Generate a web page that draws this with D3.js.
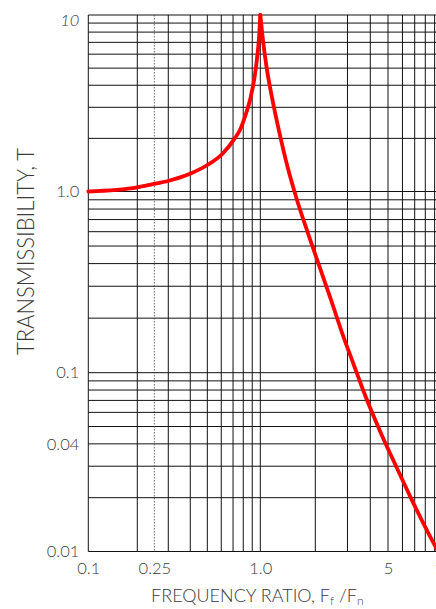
<!DOCTYPE html>
<html>
<head>
<meta charset="utf-8">
<script src="https://cdn.jsdelivr.net/npm/d3@7"></script>
<style>
  html, body { margin: 0; padding: 0; background: #fff; }
  svg { display: block; }
  text { font-family: Lato, "Open Sans", sans-serif; font-weight: 300; fill: #3a3a3a; }
</style>
</head>
<body>
<svg id="chart" width="436" height="609"></svg>
<script>
// ---- data ----
const xTickValues = [0.1, 0.25, 1, 5, 10];
const xTickLabels = ["0.1", "0.25", "1.0", "5", "10"];
const yTickValues = [10, 1, 0.1, 0.04, 0.01];
const yTickLabels = ["10", "1.0", "0.1", "0.04", "0.01"];
const xGridValues = [0.1, 0.2, 0.3, 0.4, 0.5, 0.6, 0.7, 0.8, 0.9, 1, 2, 3, 4, 5, 6, 7, 8, 9, 10];
const xDottedValues = [0.25];
const yGridValues = [0.01, 0.02, 0.03, 0.04, 0.05, 0.06, 0.07, 0.08, 0.09,
                     0.1, 0.2, 0.3, 0.4, 0.5, 0.6, 0.7, 0.8, 0.9,
                     1, 2, 3, 4, 5, 6, 7, 8, 9, 10];
// transmissibility curve, below resonance
const belowRatio = [0.1, 0.2, 0.239, 0.302, 0.402, 0.5, 0.608, 0.716, 0.766, 0.818, 0.874, 0.946, 0.987, 1.0];
const belowT     = [1.0, 1.056, 1.094, 1.151, 1.265, 1.413, 1.631, 2.0, 2.23, 2.65, 3.30, 5.10, 7.88, 10];
// above resonance
const aboveRatio = [1.0, 1.037, 1.081, 1.166, 1.274, 1.409, 1.588, 1.824, 2.109, 2.438, 2.818, 3.237, 3.742, 4.549, 5.567, 6.809, 8.329, 9.27];
const aboveT     = [10, 7.03, 5.10, 3.30, 2.14, 1.38, 0.898, 0.588, 0.385, 0.252, 0.1635, 0.1117, 0.0750, 0.0465, 0.0296, 0.01907, 0.01262, 0.01026];

const xTitle = "FREQUENCY RATIO, F";
const yTitle = "TRANSMISSIBILITY, T";

// ---- scales ----
const svg = d3.select("#chart");
svg.append("rect").attr("width", 436).attr("height", 609).attr("fill", "#fff");

const x = d3.scaleLog().domain([0.1, 0.2, 1, 10]).range([88.3, 137.3, 260.3, 443]);
const y = d3.scaleLog().domain([0.01, 0.1, 1, 10]).range([551.5, 372.7, 191.5, 15]);

const grid = svg.append("g");
grid.selectAll("line.v").data(xGridValues).join("line")
  .attr("class", "v")
  .attr("x1", d => x(d)).attr("x2", d => x(d))
  .attr("y1", y(10)).attr("y2", y(0.01))
  .attr("stroke", "#111").attr("stroke-width", 1);
grid.selectAll("line.h").data(yGridValues).join("line")
  .attr("class", "h")
  .attr("x1", x(0.1)).attr("x2", x(10))
  .attr("y1", d => y(d)).attr("y2", d => y(d))
  .attr("stroke", "#111").attr("stroke-width", 1);
grid.selectAll("line.d").data(xDottedValues).join("line")
  .attr("class", "d")
  .attr("x1", d => x(d)).attr("x2", d => x(d))
  .attr("y1", y(10)).attr("y2", y(0.01))
  .attr("stroke", "#444").attr("stroke-width", 0.8)
  .attr("stroke-dasharray", "1.5,1.5");

// ---- curve ----
const line = d3.line().x(d => x(d[0])).y(d => y(d[1])).curve(d3.curveMonotoneX);
const below = belowRatio.map((r, i) => [r, belowT[i]]);
const above = aboveRatio.map((r, i) => [r, aboveT[i]]);
[below, above].forEach(seg => {
  svg.append("path").datum(seg)
    .attr("d", line)
    .attr("fill", "none")
    .attr("stroke", "#ff0000")
    .attr("stroke-width", 3.8)
    .attr("stroke-linejoin", "round")
    .attr("stroke-linecap", "round");
});

// ---- axes ----
const yAxis = svg.append("g").attr("transform", `translate(${x(0.1)},0)`)
  .call(d3.axisLeft(y).tickValues(yTickValues).tickFormat((d, i) => yTickLabels[i]).tickSize(0).tickPadding(9));
yAxis.select(".domain").remove();
yAxis.selectAll("text")
  .style("font-family", "Lato, 'Open Sans', sans-serif").style("font-weight", 300)
  .style("font-size", "16.5px").attr("fill", "#3a3a3a")
  .filter(d => d === 10).attr("dy", "0.65em").style("font-style", "italic");

const xAxis = svg.append("g").attr("transform", `translate(0,${y(0.01)})`)
  .call(d3.axisBottom(x).tickValues(xTickValues).tickFormat((d, i) => xTickLabels[i]).tickSize(0).tickPadding(11));
xAxis.select(".domain").remove();
xAxis.selectAll("text")
  .style("font-family", "Lato, 'Open Sans', sans-serif").style("font-weight", 300)
  .style("font-size", "16.5px").attr("fill", "#3a3a3a");

// ---- titles ----
const xt = svg.append("text")
  .attr("x", 257.3).attr("y", 602)
  .attr("text-anchor", "middle")
  .style("font-size", "18px");
xt.append("tspan").text(xTitle);
xt.append("tspan").text("f").style("font-size", "12px").attr("dy", 3);
xt.append("tspan").text(" /F").attr("dy", -3);
xt.append("tspan").text("n").style("font-size", "12px").attr("dy", 3);

svg.append("text")
  .attr("transform", "translate(25,251.5) rotate(-90)")
  .attr("text-anchor", "middle")
  .attr("dominant-baseline", "central")
  .attr("textLength", 207)
  .attr("lengthAdjust", "spacingAndGlyphs")
  .style("font-size", "23px")
  .text(yTitle);
</script>
</body>
</html>
